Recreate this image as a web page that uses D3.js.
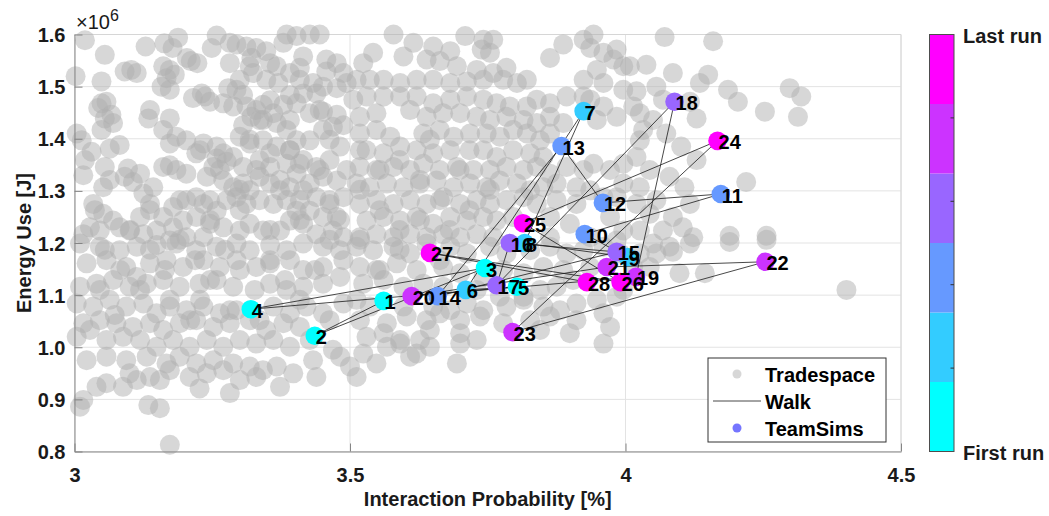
<!DOCTYPE html>
<html>
<head>
<meta charset="utf-8">
<script src="https://cdn.jsdelivr.net/npm/d3@7"></script>
<style>
body { margin: 0; background: #fff; }
text { font-family: "Liberation Sans", Arial, sans-serif; }
</style>
</head>
<body>
<svg id="chart" width="1049" height="516"></svg>
<script>
// energy values are in units of 10^6 J (axis shows the x10^6 multiplier)
var xTicks = [3, 3.5, 4, 4.5];
var yTicks = [0.8, 0.9, 1.0, 1.1, 1.2, 1.3, 1.4, 1.5, 1.6];
var legendLabels = ['Tradespace', 'Walk', 'TeamSims'];
var colorbarLabels = ['First run', 'Last run'];
var cool6 = ['#00ffff', '#33ccff', '#6699ff', '#9966ff', '#cc33ff', '#ff00ff'];

var runIds = [1, 2, 3, 4, 5, 6, 7, 8, 9, 10, 11, 12, 13, 14, 15, 16, 17, 18, 19, 20, 21, 22, 23, 24, 25, 26, 27, 28];
var walkProb = [3.561, 3.436, 3.745, 3.320, 3.803, 3.710, 3.924, 3.817, 4.004, 3.926, 4.173, 3.959, 3.884, 3.659,
	3.984, 3.790, 3.766, 4.089, 4.019, 3.612, 3.966, 4.254, 3.795, 4.167, 3.814, 3.991, 3.645, 3.930];
var walkEnergy = [1.089, 1.022, 1.152, 1.073, 1.116, 1.110, 1.453, 1.200, 1.173, 1.217, 1.294, 1.277, 1.386, 1.098,
	1.183, 1.200, 1.119, 1.471, 1.135, 1.098, 1.154, 1.164, 1.029, 1.396, 1.238, 1.125, 1.181, 1.125];

// [interaction probability %, energy x10^6 J]
var tradespace = [
	[3.019,1.589],[3.055,1.561],[3.129,1.577],[3.163,1.583],[3.188,1.594],[3.178,1.574],[3.204,1.555],[3.223,1.545],[3.211,1.549],[3.249,1.574],
	[3.258,1.598],[3.282,1.584],[3.294,1.581],[3.312,1.577],[3.330,1.574],[3.348,1.568],[3.321,1.555],[3.282,1.545],[3.318,1.539],[3.324,1.526],
	[3.355,1.545],[3.367,1.539],[3.385,1.600],[3.403,1.597],[3.427,1.600],[3.445,1.600],[3.379,1.584],[3.415,1.558],[3.409,1.536],[3.391,1.526],
	[3.457,1.552],[3.476,1.545],[3.488,1.526],[3.457,1.529],[3.433,1.507],[3.451,1.500],[3.476,1.497],[3.494,1.507],[3.439,1.487],[3.415,1.487],
	[3.391,1.484],[3.370,1.507],[3.348,1.513],[3.091,1.529],[3.103,1.532],[3.113,1.526],[3.049,1.510],[3.002,1.520],[3.161,1.539],[3.173,1.532],
	[3.167,1.516],[3.182,1.523],[3.158,1.500],[3.173,1.494],[3.231,1.487],[3.237,1.481],[3.215,1.478],[3.246,1.471],[3.270,1.468],[3.279,1.497],
	[3.294,1.494],[3.306,1.484],[3.288,1.462],[3.312,1.462],[3.330,1.455],[3.342,1.465],[3.361,1.449],[3.379,1.465],[3.403,1.468],[3.427,1.449],
	[3.451,1.452],[3.476,1.446],[3.488,1.426],[3.469,1.423],[3.451,1.417],[3.427,1.397],[3.403,1.397],[3.385,1.417],[3.367,1.430],[3.342,1.436],
	[3.321,1.442],[3.306,1.426],[3.300,1.404],[3.318,1.391],[3.342,1.397],[3.355,1.372],[3.367,1.385],[3.391,1.378],[3.415,1.359],[3.439,1.346],
	[3.463,1.359],[3.482,1.385],[3.494,1.340],[3.476,1.320],[3.451,1.327],[3.427,1.314],[3.403,1.333],[3.385,1.352],[3.409,1.352],[3.355,1.346],
	[3.330,1.340],[3.306,1.346],[3.288,1.365],[3.270,1.372],[3.258,1.385],[3.234,1.391],[3.221,1.372],[3.203,1.397],[3.185,1.404],[3.173,1.391],
	[3.161,1.417],[3.173,1.439],[3.137,1.455],[3.134,1.439],[3.070,1.430],[3.055,1.439],[3.049,1.468],[3.058,1.471],[3.043,1.459],[3.067,1.446],
	[3.004,1.410],[3.013,1.397],[3.031,1.375],[3.049,1.417],[3.082,1.388],[3.064,1.381],[3.055,1.346],[3.016,1.330],[3.052,1.307],[3.097,1.343],
	[3.119,1.333],[3.106,1.317],[3.091,1.327],[3.161,1.346],[3.173,1.349],[3.185,1.340],[3.203,1.333],[3.240,1.327],[3.258,1.362],[3.276,1.356],
	[3.252,1.346],[3.270,1.320],[3.288,1.307],[3.306,1.314],[3.318,1.301],[3.336,1.327],[3.355,1.314],[3.373,1.301],[3.391,1.307],[3.415,1.301],
	[3.439,1.288],[3.463,1.275],[3.488,1.288],[3.476,1.250],[3.451,1.250],[3.427,1.262],[3.403,1.262],[3.385,1.282],[3.361,1.275],[3.336,1.282],
	[3.312,1.275],[3.294,1.288],[3.276,1.282],[3.258,1.262],[3.234,1.275],[3.221,1.288],[3.203,1.282],[3.179,1.269],[3.161,1.250],[3.143,1.307],
	[3.125,1.295],[3.137,1.275],[3.119,1.250],[3.100,1.224],[3.070,1.243],[3.052,1.256],[3.034,1.275],[3.028,1.230],[3.016,1.217],[3.046,1.224],
	[3.082,1.230],[3.125,1.217],[3.149,1.224],[3.179,1.230],[3.197,1.243],[3.221,1.250],[3.246,1.237],[3.270,1.230],[3.300,1.224],[3.318,1.237],
	[3.342,1.224],[3.373,1.224],[3.391,1.243],[3.415,1.237],[3.439,1.217],[3.469,1.224],[3.488,1.211],[3.234,1.211],[3.203,1.211],[3.173,1.205],

	[3.579,1.600],[3.615,1.584],[3.651,1.577],[3.682,1.568],[3.709,1.597],[3.742,1.590],[3.760,1.590],[3.754,1.565],[3.739,1.571],[3.542,1.565],
	[3.524,1.545],[3.597,1.558],[3.639,1.552],[3.663,1.549],[3.694,1.539],[3.730,1.532],[3.760,1.526],[3.784,1.536],[3.803,1.507],[3.821,1.513],
	[3.778,1.513],[3.742,1.513],[3.712,1.510],[3.682,1.507],[3.651,1.513],[3.621,1.513],[3.591,1.507],[3.561,1.513],[3.536,1.513],[3.512,1.513],
	[3.863,1.555],[3.887,1.581],[3.924,1.590],[3.942,1.600],[3.936,1.574],[3.960,1.565],[3.984,1.571],[3.978,1.552],[3.996,1.539],[3.948,1.532],
	[3.924,1.513],[3.960,1.507],[3.996,1.494],[3.936,1.475],[3.960,1.462],[3.984,1.442],[3.948,1.436],[3.924,1.481],[3.893,1.481],[3.863,1.468],
	[3.839,1.475],[3.821,1.462],[3.790,1.462],[3.766,1.468],[3.742,1.475],[3.712,1.481],[3.682,1.475],[3.651,1.468],[3.621,1.481],[3.591,1.481],
	[3.561,1.481],[3.530,1.481],[3.506,1.475],[3.518,1.442],[3.548,1.449],[3.609,1.455],[3.639,1.442],[3.669,1.449],[3.700,1.449],[3.730,1.442],
	[3.754,1.436],[3.784,1.442],[3.815,1.436],[3.839,1.430],[3.863,1.442],[3.887,1.430],[3.518,1.410],[3.548,1.417],[3.573,1.404],[3.633,1.410],
	[3.663,1.417],[3.688,1.404],[3.718,1.410],[3.748,1.410],[3.772,1.404],[3.796,1.417],[3.821,1.410],[3.845,1.397],[3.863,1.410],[3.530,1.378],
	[3.561,1.372],[3.591,1.385],[3.621,1.378],[3.651,1.372],[3.682,1.378],[3.742,1.378],[3.766,1.365],[3.796,1.378],[3.827,1.372],[3.851,1.365],
	[3.518,1.346],[3.548,1.340],[3.579,1.346],[3.609,1.340],[3.633,1.352],[3.663,1.340],[3.694,1.346],[3.724,1.340],[3.754,1.340],[3.784,1.346],
	[3.815,1.340],[3.839,1.346],[3.863,1.333],[3.893,1.346],[3.924,1.340],[3.942,1.352],[3.972,1.340],[3.996,1.352],[3.512,1.314],[3.536,1.307],
	[3.567,1.314],[3.597,1.307],[3.627,1.314],[3.657,1.320],[3.688,1.307],[3.718,1.314],[3.748,1.307],[3.772,1.320],[3.803,1.314],[3.827,1.301],
	[3.851,1.307],[3.875,1.314],[3.911,1.307],[3.996,1.314],[3.984,1.288],[3.960,1.288],[3.936,1.301],[3.518,1.275],[3.548,1.282],[3.579,1.275],
	[3.609,1.282],[3.639,1.275],[3.669,1.288],[3.700,1.275],[3.730,1.282],[3.754,1.275],[3.784,1.282],[3.815,1.288],[3.839,1.275],[3.875,1.282],
	[3.911,1.275],[3.530,1.243],[3.561,1.250],[3.591,1.243],[3.621,1.250],[3.651,1.237],[3.682,1.250],[3.712,1.243],[3.742,1.250],[3.766,1.243],
	[3.796,1.250],[3.863,1.250],[3.899,1.237],[3.972,1.250],[3.996,1.224],[3.518,1.211],[3.548,1.217],[3.579,1.211],[3.609,1.217],[3.639,1.211],
	[3.669,1.217],[3.700,1.211],[3.730,1.217],[3.760,1.211],[3.863,1.211],[3.936,1.211],[3.984,1.205],

	[4.071,1.595],[4.159,1.587],[4.038,1.542],[4.008,1.539],[4.086,1.526],[4.150,1.523],[4.135,1.507],[4.186,1.494],[4.204,1.471],[4.253,1.452],
	[4.298,1.497],[4.319,1.481],[4.313,1.442],[4.056,1.500],[4.020,1.491],[4.068,1.475],[4.117,1.471],[4.129,1.439],[4.026,1.449],[4.014,1.462],
	[4.050,1.436],[4.032,1.417],[4.074,1.410],[4.101,1.385],[4.129,1.359],[4.026,1.397],[4.020,1.365],[4.044,1.340],[4.080,1.327],[4.107,1.307],
	[4.026,1.307],[4.219,1.317],[4.117,1.275],[4.086,1.250],[4.044,1.256],[4.123,1.211],[4.189,1.214],[4.256,1.214],[4.026,1.224],[4.068,1.224],
	[4.104,1.230],[4.020,1.275],[4.056,1.282],

	[3.010,1.199],[3.046,1.193],[3.082,1.186],[3.113,1.193],[3.149,1.196],[3.185,1.199],[3.221,1.186],[3.258,1.193],[3.294,1.199],[3.318,1.186],
	[3.355,1.196],[3.385,1.186],[3.415,1.199],[3.451,1.193],[3.482,1.186],[3.022,1.161],[3.058,1.167],[3.094,1.154],[3.113,1.135],[3.137,1.161],
	[3.167,1.167],[3.197,1.154],[3.234,1.167],[3.264,1.154],[3.294,1.167],[3.330,1.154],[3.355,1.161],[3.391,1.167],[3.415,1.148],[3.451,1.154],
	[3.488,1.167],[3.010,1.116],[3.040,1.122],[3.070,1.129],[3.100,1.116],[3.131,1.122],[3.161,1.129],[3.191,1.116],[3.227,1.122],[3.258,1.129],
	[3.288,1.116],[3.355,1.122],[3.385,1.110],[3.415,1.116],[3.451,1.122],[3.482,1.135],[3.004,1.084],[3.034,1.078],[3.064,1.091],[3.094,1.078],
	[3.125,1.084],[3.149,1.065],[3.173,1.078],[3.203,1.071],[3.234,1.078],[3.264,1.065],[3.294,1.071],[3.361,1.078],[3.391,1.065],[3.421,1.078],
	[3.451,1.065],[3.488,1.084],[3.016,1.046],[3.046,1.052],[3.076,1.046],[3.106,1.039],[3.137,1.046],[3.161,1.033],[3.191,1.046],[3.221,1.052],
	[3.252,1.039],[3.282,1.046],[3.318,1.052],[3.348,1.033],[3.379,1.046],[3.409,1.039],[3.463,1.052],[3.004,1.020],[3.058,1.014],[3.088,1.020],
	[3.119,1.014],[3.149,1.001],[3.179,1.014],[3.209,1.001],[3.240,1.014],[3.270,1.001],[3.300,1.014],[3.330,1.007],[3.361,1.014],[3.391,1.001],
	[3.427,1.014],[3.469,0.995],[3.482,0.982],[3.022,0.975],[3.058,0.982],[3.094,0.975],[3.131,0.982],[3.167,0.969],[3.191,0.982],[3.221,0.969],
	[3.252,0.975],[3.288,0.969],[3.318,0.963],[3.342,0.956],[3.367,0.963],[3.397,0.950],[3.433,0.975],[3.500,0.963],[3.100,0.950],[3.137,0.943],
	[3.173,0.956],[3.209,0.943],[3.240,0.950],[3.270,0.956],[3.300,0.937],[3.330,0.943],[3.373,0.924],[3.439,0.943],[3.040,0.924],[3.058,0.931],
	[3.088,0.924],[3.113,0.937],[3.155,0.937],[3.227,0.921],[3.282,0.912],[3.016,0.899],[3.010,0.886],[3.134,0.889],[3.155,0.883],[3.173,0.813],

	[3.512,1.193],[3.542,1.186],[3.579,1.193],[3.609,1.180],[3.639,1.199],[3.682,1.193],[3.712,1.180],[3.754,1.193],[3.784,1.180],[3.827,1.186],
	[3.863,1.193],[3.893,1.180],[3.924,1.186],[3.960,1.193],[3.990,1.180],[3.518,1.154],[3.548,1.148],[3.585,1.161],[3.621,1.148],[3.669,1.154],
	[3.700,1.142],[3.742,1.135],[3.778,1.148],[3.815,1.142],[3.851,1.154],[3.887,1.148],[3.936,1.154],[3.524,1.122],[3.561,1.129],[3.597,1.116],
	[3.633,1.122],[3.669,1.116],[3.730,1.110],[3.772,1.097],[3.815,1.097],[3.845,1.110],[3.875,1.116],[3.905,1.129],[3.996,1.110],[3.512,1.091],
	[3.536,1.078],[3.597,1.078],[3.651,1.078],[3.682,1.071],[3.712,1.084],[3.742,1.071],[3.784,1.078],[3.815,1.091],[3.851,1.078],[3.881,1.071],
	[3.911,1.084],[3.948,1.091],[3.984,1.097],[3.518,1.052],[3.567,1.046],[3.603,1.059],[3.639,1.052],[3.663,1.065],[3.700,1.052],[3.736,1.059],
	[3.778,1.046],[3.827,1.052],[3.863,1.059],[3.911,1.052],[3.960,1.065],[3.530,1.020],[3.561,1.027],[3.591,1.014],[3.627,1.014],[3.645,1.033],
	[3.700,1.027],[3.730,1.014],[3.845,1.033],[3.899,1.027],[3.972,1.039],[3.524,0.988],[3.567,1.001],[3.591,1.007],[3.621,0.988],[3.645,1.001],
	[3.700,1.007],[3.694,0.969],[3.512,0.943],[3.548,0.969],[3.609,0.982],[3.960,1.007],

	[4.050,1.199],[4.080,1.193],[4.117,1.199],[4.189,1.202],[4.256,1.206],[4.026,1.180],[4.056,1.180],[4.086,1.183],[4.098,1.142],[4.144,1.142],
	[4.401,1.110],[4.014,1.154],[4.044,1.154],

	// denser cores
	[3.137,1.187],[3.164,1.148],[3.191,1.206],[3.219,1.167],[3.246,1.129],[3.273,1.187],[3.300,1.148],[3.327,1.110],[3.355,1.167],[3.382,1.129],
	[3.409,1.091],[3.436,1.148],[3.228,1.091],[3.173,1.091],[3.119,1.110],[3.282,1.071],[3.336,1.052],[3.210,1.052],[3.083,1.148],[3.055,1.187],
	[3.137,1.263],[3.191,1.282],[3.246,1.244],[3.300,1.263],[3.355,1.225],[3.409,1.244],[3.463,1.206],[3.101,1.225],
	[3.518,1.378],[3.554,1.340],[3.590,1.359],[3.627,1.321],[3.663,1.282],[3.699,1.340],[3.554,1.263],[3.590,1.225],[3.627,1.244],[3.681,1.225],
	[3.717,1.263],[3.518,1.302],[3.482,1.244],[3.754,1.302],[3.717,1.378],[3.645,1.398],[3.518,1.206],[3.590,1.187],[3.663,1.167],[3.554,1.148],
	[3.228,1.378],[3.264,1.340],[3.300,1.302],[3.336,1.359],[3.373,1.321],[3.409,1.282],[3.445,1.340],[3.246,1.282],[3.318,1.398],[3.391,1.378],
	[3.463,1.398],[3.463,1.282],
	[3.300,1.513],[3.355,1.474],[3.409,1.513],[3.445,1.455],[3.391,1.436],[3.336,1.436],
	[3.046,1.110],[3.073,1.062],[3.028,1.033],[3.037,1.263],[3.064,1.321],[3.019,1.359]
];

var svg = d3.select('#chart');
var W = 1049, H = 516;
var plot = { left: 74.5, right: 901, top: 34.5, bottom: 451.5 };

var x = d3.scaleLinear().domain([3, 4.5]).range([plot.left, plot.right]);
var y = d3.scaleLinear().domain([0.8, 1.6]).range([plot.bottom, plot.top]);
var runColor = d3.scaleQuantize().domain([1, 28]).range(cool6);

svg.append('rect').attr('width', W).attr('height', H).attr('fill', '#fff');

// grid
var grid = svg.append('g').attr('class', 'grid');
grid.selectAll('line.gx').data(xTicks).enter().append('line')
	.attr('x1', function(d) { return x(d); }).attr('x2', function(d) { return x(d); })
	.attr('y1', plot.top).attr('y2', plot.bottom)
	.attr('stroke', '#e3e3e3').attr('stroke-width', 1);
grid.selectAll('line.gy').data(yTicks).enter().append('line')
	.attr('y1', function(d) { return y(d); }).attr('y2', function(d) { return y(d); })
	.attr('x1', plot.left).attr('x2', plot.right)
	.attr('stroke', '#e3e3e3').attr('stroke-width', 1);

// box (top / right are light)
svg.append('line').attr('x1', plot.left).attr('x2', plot.right).attr('y1', plot.top).attr('y2', plot.top)
	.attr('stroke', '#d6d6d6');
svg.append('line').attr('x1', plot.right).attr('x2', plot.right).attr('y1', plot.top).attr('y2', plot.bottom)
	.attr('stroke', '#d6d6d6');

// tradespace cloud
svg.append('g').selectAll('circle').data(tradespace).enter().append('circle')
	.attr('cx', function(d) { return x(d[0]); })
	.attr('cy', function(d) { return y(d[1]); })
	.attr('r', 10)
	.attr('fill', '#b0b0b0')
	.attr('fill-opacity', 0.5);

// axes
var xAxis = d3.axisBottom(x).tickValues(xTicks).tickSizeInner(-8).tickSizeOuter(0).tickPadding(16)
	.tickFormat(function(d) { return String(d); });
var yAxis = d3.axisLeft(y).tickValues(yTicks).tickSizeInner(-8).tickSizeOuter(0).tickPadding(9)
	.tickFormat(d3.format('.1f'));

var gx = svg.append('g').attr('transform', 'translate(0,' + plot.bottom + ')').call(xAxis);
var gy = svg.append('g').attr('transform', 'translate(' + plot.left + ',0)').call(yAxis);
[gx, gy].forEach(function(g) {
	g.select('.domain').attr('stroke', '#858585');
	g.selectAll('.tick line').attr('stroke', '#858585');
	g.selectAll('.tick text').attr('fill', '#1a1a1a')
		.style('font-size', '20px').style('font-weight', 'bold')
		.style('font-family', '"Liberation Sans", Arial, sans-serif');
});
gy.selectAll('.tick text').attr('dy', '0.35em');

// walk
var walk = runIds.map(function(id, i) { return { id: id, p: walkProb[i], e: walkEnergy[i] }; });
var line = d3.line().x(function(d) { return x(d.p); }).y(function(d) { return y(d.e); });
svg.append('path').datum(walk).attr('d', line)
	.attr('fill', 'none').attr('stroke', '#1a1a1a').attr('stroke-width', 0.8);

svg.append('g').selectAll('circle').data(walk).enter().append('circle')
	.attr('cx', function(d) { return x(d.p); })
	.attr('cy', function(d) { return y(d.e); })
	.attr('r', 9.3)
	.attr('fill', function(d) { return runColor(d.id); });

svg.append('g').selectAll('text').data(walk).enter().append('text')
	.attr('x', function(d) { return x(d.p) + 1; })
	.attr('y', function(d) { return y(d.e) + 8.5; })
	.attr('font-size', 20).attr('font-weight', 'bold').attr('fill', '#000')
	.text(function(d) { return d.id; });

// axis titles
svg.append('text').attr('x', (plot.left + plot.right) / 2).attr('y', 506)
	.attr('text-anchor', 'middle').attr('font-size', 20).attr('font-weight', 'bold').attr('fill', '#1a1a1a')
	.text('Interaction Probability [%]');
svg.append('text').attr('transform', 'translate(31,' + ((plot.top + plot.bottom) / 2) + ') rotate(-90)')
	.attr('text-anchor', 'middle').attr('font-size', 20).attr('font-weight', 'bold').attr('fill', '#1a1a1a')
	.text('Energy Use [J]');
var mult = svg.append('text').attr('x', 76).attr('y', 29).attr('font-size', 20).attr('fill', '#1a1a1a');
mult.append('tspan').text('\u00d710');
mult.append('tspan').attr('dy', -8).attr('font-size', 16).text('6');

// legend
var lg = svg.append('g').attr('transform', 'translate(708,358)');
lg.append('rect').attr('width', 178).attr('height', 84).attr('fill', '#fff').attr('stroke', '#333').attr('stroke-width', 1);
lg.append('circle').attr('cx', 29).attr('cy', 16).attr('r', 4.5).attr('fill', '#b0b0b0').attr('fill-opacity', 0.5);
lg.append('line').attr('x1', 5).attr('x2', 53).attr('y1', 43).attr('y2', 43).attr('stroke', '#1a1a1a').attr('stroke-width', 0.8);
lg.append('circle').attr('cx', 29).attr('cy', 70).attr('r', 4.5).attr('fill', '#7575ff');
lg.selectAll('text').data(legendLabels).enter().append('text')
	.attr('x', 57).attr('y', function(d, i) { return 23.5 + i * 27; })
	.attr('font-size', 20).attr('font-weight', 'bold').attr('fill', '#000')
	.text(function(d) { return d; });

// colorbar
var cb = { x: 929.5, w: 24.5 };
var cbScale = d3.scaleLinear().domain([0, 1]).range([plot.bottom, plot.top]);
var cbg = svg.append('g');
cbg.selectAll('rect').data(cool6).enter().append('rect')
	.attr('x', cb.x)
	.attr('y', function(d, i) { return cbScale((i + 1) / 6); })
	.attr('width', cb.w)
	.attr('height', function(d, i) { return cbScale(i / 6) - cbScale((i + 1) / 6); })
	.attr('fill', function(d) { return d; });
cbg.append('rect').attr('x', cb.x).attr('y', plot.top).attr('width', cb.w).attr('height', plot.bottom - plot.top)
	.attr('fill', 'none').attr('stroke', '#4d4d4d').attr('stroke-width', 1);
cbg.selectAll('line').data([0.2, 0.4, 0.6, 0.8]).enter().append('line')
	.attr('x1', cb.x + cb.w - 3.5).attr('x2', cb.x + cb.w)
	.attr('y1', function(d) { return cbScale(d); }).attr('y2', function(d) { return cbScale(d); })
	.attr('stroke', '#333');
cbg.selectAll('text').data(colorbarLabels).enter().append('text')
	.attr('x', 963)
	.attr('y', function(d, i) { return cbScale(i) + 8; })
	.attr('font-size', 20).attr('font-weight', 'bold').attr('fill', '#1a1a1a')
	.text(function(d) { return d; });
</script>
</body>
</html>
